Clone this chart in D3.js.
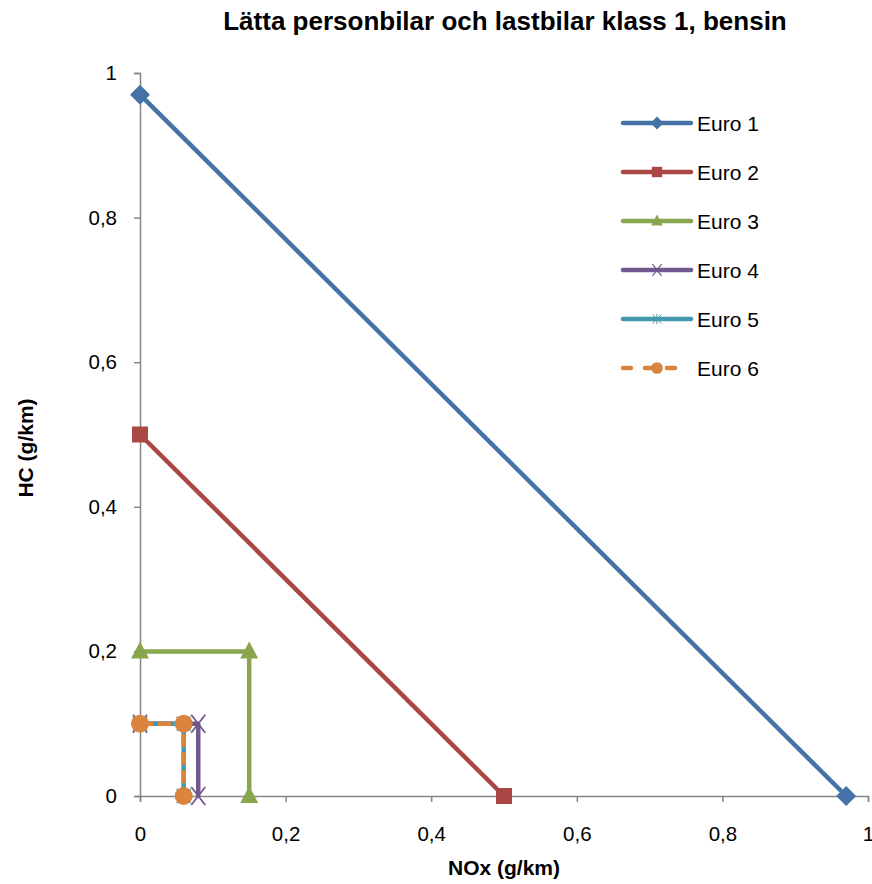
<!DOCTYPE html>
<html>
<head>
<meta charset="utf-8">
<script src="https://cdn.jsdelivr.net/npm/d3@7"></script>
<style>
  body { margin: 0; background: #fff; }
  text { font-family: "Liberation Sans", Arial, sans-serif; fill: #000; }
</style>
</head>
<body>
<svg id="chart" width="872" height="884"></svg>
<script>
// chart data
const seriesNames = ['Euro 1', 'Euro 2', 'Euro 3', 'Euro 4', 'Euro 5', 'Euro 6'];
const euro1 = [[0, 0.97], [0.97, 0]];
const euro2 = [[0, 0.5], [0.5, 0]];
const euro3 = [[0, 0.2], [0.15, 0.2], [0.15, 0]];
const euro4 = [[0, 0.1], [0.08, 0.1], [0.08, 0]];
const euro5 = [[0, 0.1], [0.06, 0.1], [0.06, 0]];
const euro6 = [[0, 0.1], [0.06, 0.1], [0.06, 0]];
const xTicks = [0, 0.2, 0.4, 0.6, 0.8, 1];
const yTicks = [0, 0.2, 0.4, 0.6, 0.8, 1];

const colors = ['#4572A7', '#AA4643', '#89A54E', '#71588F', '#4198AF', '#DB843D'];
const markers = ['diamond', 'square', 'triangle', 'cross', 'star', 'circle'];
const allData = [euro1, euro2, euro3, euro4, euro5, euro6];

const svg = d3.select('#chart');
const x = d3.scaleLinear().domain([0, 1]).range([140, 868]);
const y = d3.scaleLinear().domain([0, 1]).range([796, 73]);

const fmt = d => d3.format('')(d).replace('.', ',');

// axes
const xAxis = svg.append('g')
  .attr('transform', `translate(0,${y(0)})`)
  .call(d3.axisBottom(x).tickValues(xTicks).tickSize(6).tickPadding(24).tickFormat(fmt));
const yAxis = svg.append('g')
  .attr('transform', `translate(${x(0)},0)`)
  .call(d3.axisLeft(y).tickValues(yTicks).tickSize(6).tickPadding(17).tickFormat(fmt));

[xAxis, yAxis].forEach((g) => {
  g.select('.domain').attr('stroke', '#868686').attr('stroke-width', 1.5);
  g.selectAll('.tick line').attr('stroke', '#868686').attr('stroke-width', 1.5);
  g.selectAll('.tick text').style('font-size', '20.5px').attr('fill', '#000');
});

// marker drawing
function drawMarker(g, type, cx, cy, color) {
  const m = g.append('g').attr('transform', `translate(${cx},${cy})`);
  switch (type) {
    case 'diamond':
      m.append('path').attr('d', 'M0,-10L10,0L0,10L-10,0Z').attr('fill', color);
      break;
    case 'square':
      m.append('rect').attr('x', -8).attr('y', -8).attr('width', 16).attr('height', 16).attr('fill', color);
      break;
    case 'triangle':
      m.append('path').attr('d', 'M0,-10L9,7L-9,7Z').attr('fill', color);
      break;
    case 'cross':
      m.append('path').attr('d', 'M-7,-9L7,9M-7,9L7,-9').attr('stroke', color).attr('stroke-width', 1.8);
      break;
    case 'star':
      m.append('path').attr('d', 'M-7,-7L7,7M-7,7L7,-7M0,-8L0,8').attr('stroke', color).attr('stroke-width', 1.5);
      break;
    case 'circle':
      m.append('circle').attr('r', 9).attr('fill', color);
      break;
    default:
      break;
  }
}

const line = d3.line().x(d => x(d[0])).y(d => y(d[1]));

// series
allData.forEach((data, i) => {
  const g = svg.append('g');
  g.append('path')
    .datum(data)
    .attr('d', line)
    .attr('fill', 'none')
    .attr('stroke', colors[i])
    .attr('stroke-width', 4.5)
    .attr('stroke-linejoin', 'round')
    .attr('stroke-linecap', i === 5 ? 'butt' : 'round')
    .attr('stroke-dasharray', i === 5 ? '13,5' : null);
  data.forEach((d) => drawMarker(g, markers[i], x(d[0]), y(d[1]), colors[i]));
});

// legend
const legend = svg.append('g');
seriesNames.forEach((name, i) => {
  const ly = 123 + i * 49;
  const row = legend.append('g');
  row.append('line')
    .attr('x1', 623).attr('x2', i === 5 ? 683 : 691).attr('y1', ly).attr('y2', ly)
    .attr('stroke', colors[i])
    .attr('stroke-width', 4.5)
    .attr('stroke-linecap', 'round')
    .attr('stroke-dasharray', i === 5 ? '8,14' : null);
  const mg = row.append('g').attr('transform', `translate(657,${ly}) scale(0.65)`);
  drawMarker(mg, markers[i], 0, 0, colors[i]);
  row.append('text')
    .attr('x', 697).attr('y', ly + 7.5)
    .style('font-size', '21px')
    .text(name);
});

// titles
svg.append('text')
  .attr('x', 505).attr('y', 30)
  .attr('text-anchor', 'middle')
  .style('font-size', '26px').style('font-weight', 'bold')
  .text('Lätta personbilar och lastbilar klass 1, bensin');

svg.append('text')
  .attr('x', 504).attr('y', 875)
  .attr('text-anchor', 'middle')
  .style('font-size', '21px').style('font-weight', 'bold')
  .text('NOx (g/km)');

svg.append('text')
  .attr('transform', 'translate(33,448) rotate(-90)')
  .attr('text-anchor', 'middle')
  .style('font-size', '21px').style('font-weight', 'bold')
  .text('HC (g/km)');
</script>
</body>
</html>
